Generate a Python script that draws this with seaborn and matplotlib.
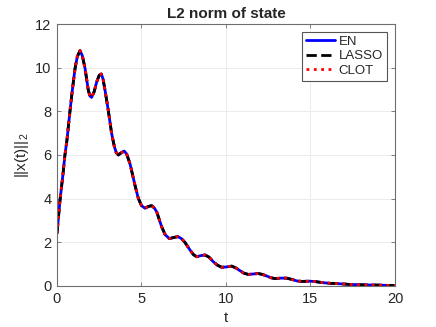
import matplotlib
matplotlib.use("Agg")
import matplotlib.pyplot as plt
import pandas as pd
import seaborn as sns

# curve (all three methods overlap)
t = [0.0, 0.18, 0.36, 0.47, 0.59, 0.77, 0.91, 1.07, 1.2, 1.36, 1.5, 1.66, 1.85, 1.95,
     2.05, 2.2, 2.35, 2.5, 2.62, 2.72, 2.84, 3.04, 3.23, 3.39, 3.5, 3.63, 3.8, 3.98,
     4.12, 4.32, 4.47, 4.62, 4.81, 5.0, 5.21, 5.4, 5.6, 5.75, 5.9, 6.19, 6.4, 6.65,
     6.9, 7.15, 7.35, 7.57, 7.87, 8.07, 8.27, 8.5, 8.76, 9.0, 9.25, 9.5, 9.74, 10.0,
     10.34, 10.6, 10.83, 11.05, 11.32, 11.6, 11.91, 12.15, 12.41, 12.65, 12.9, 13.25,
     13.59, 13.9, 14.2, 14.5, 14.97, 15.3, 15.76, 16.2, 16.55, 17.0, 17.34, 17.8,
     18.3, 19.0, 20.0]
x_norm = [2.40, 3.94, 5.16, 6.0, 6.69, 8.02, 8.98, 9.97, 10.5, 10.78, 10.55, 9.97, 8.98, 8.70,
          8.64, 8.9, 9.35, 9.65, 9.71, 9.5, 8.98, 8.02, 7.0, 6.4, 6.12, 6.0, 6.1, 6.18,
          6.05, 5.6, 5.1, 4.6, 4.02, 3.68, 3.56, 3.64, 3.68, 3.58, 3.40, 2.72, 2.35, 2.17,
          2.22, 2.26, 2.18, 2.0, 1.65, 1.44, 1.34, 1.39, 1.42, 1.32, 1.11, 0.95, 0.86, 0.87,
          0.91, 0.82, 0.70, 0.59, 0.53, 0.55, 0.57, 0.53, 0.46, 0.38, 0.34, 0.36,
          0.36, 0.30, 0.23, 0.21, 0.22, 0.20, 0.15, 0.12, 0.11, 0.09, 0.07, 0.06,
          0.05, 0.04, 0.02]

methods = ["EN", "LASSO", "CLOT"]
colors = ["#0000ff", "#000000", "#ff0000"]
styles = ["-", "--", ":"]

sns.set_theme(style="whitegrid")
plt.rcParams.update({
    "font.family": ["Liberation Sans", "DejaVu Sans"],
    "mathtext.fontset": "custom",
    "mathtext.rm": "Liberation Sans",
    "mathtext.it": "Liberation Sans",
})

fig = plt.figure(figsize=(4.36, 3.27), dpi=100)
ax = fig.add_axes([0.1307, 0.1254, 0.7752, 0.8012])

df = pd.DataFrame({"t": t, "norm": x_norm})
for name, col, ls in zip(methods, colors, styles):
    sns.lineplot(data=df, x="t", y="norm", ax=ax, color=col, linestyle=ls,
                 linewidth=2, label=name)

ax.set_xlim(0, 20)
ax.set_ylim(0, 12)
ax.set_xticks([0, 5, 10, 15, 20])
ax.set_yticks([0, 2, 4, 6, 8, 10, 12])
ax.grid(True, color="#ebebeb", linewidth=0.7)
ax.set_facecolor("white")
for sp in ax.spines.values():
    sp.set_color("#6e6e6e")
    sp.set_linewidth(0.8)
ax.tick_params(axis="both", which="both", direction="in", length=3, width=0.6,
               colors="#6e6e6e", labelcolor="#262626", labelsize=10.5,
               top=True, right=True, bottom=True, left=True, pad=4)

ax.set_title("L2 norm of state", fontsize=11, fontweight="bold", pad=4)
ax.set_xlabel("t", fontsize=11, color="#262626", labelpad=4)
ax.set_ylabel(r"||x(t)||$_2$", fontsize=11, color="#262626", labelpad=3)

leg = ax.legend(loc="upper right", fontsize=9.5, frameon=True, fancybox=False,
                edgecolor="#555555", framealpha=1, borderpad=0.3, labelspacing=0.15,
                handlelength=2.2, handletextpad=0.3, borderaxespad=0.6)
leg.get_frame().set_linewidth(0.8)

fig.savefig("out.png", dpi=100)
plt.close(fig)
